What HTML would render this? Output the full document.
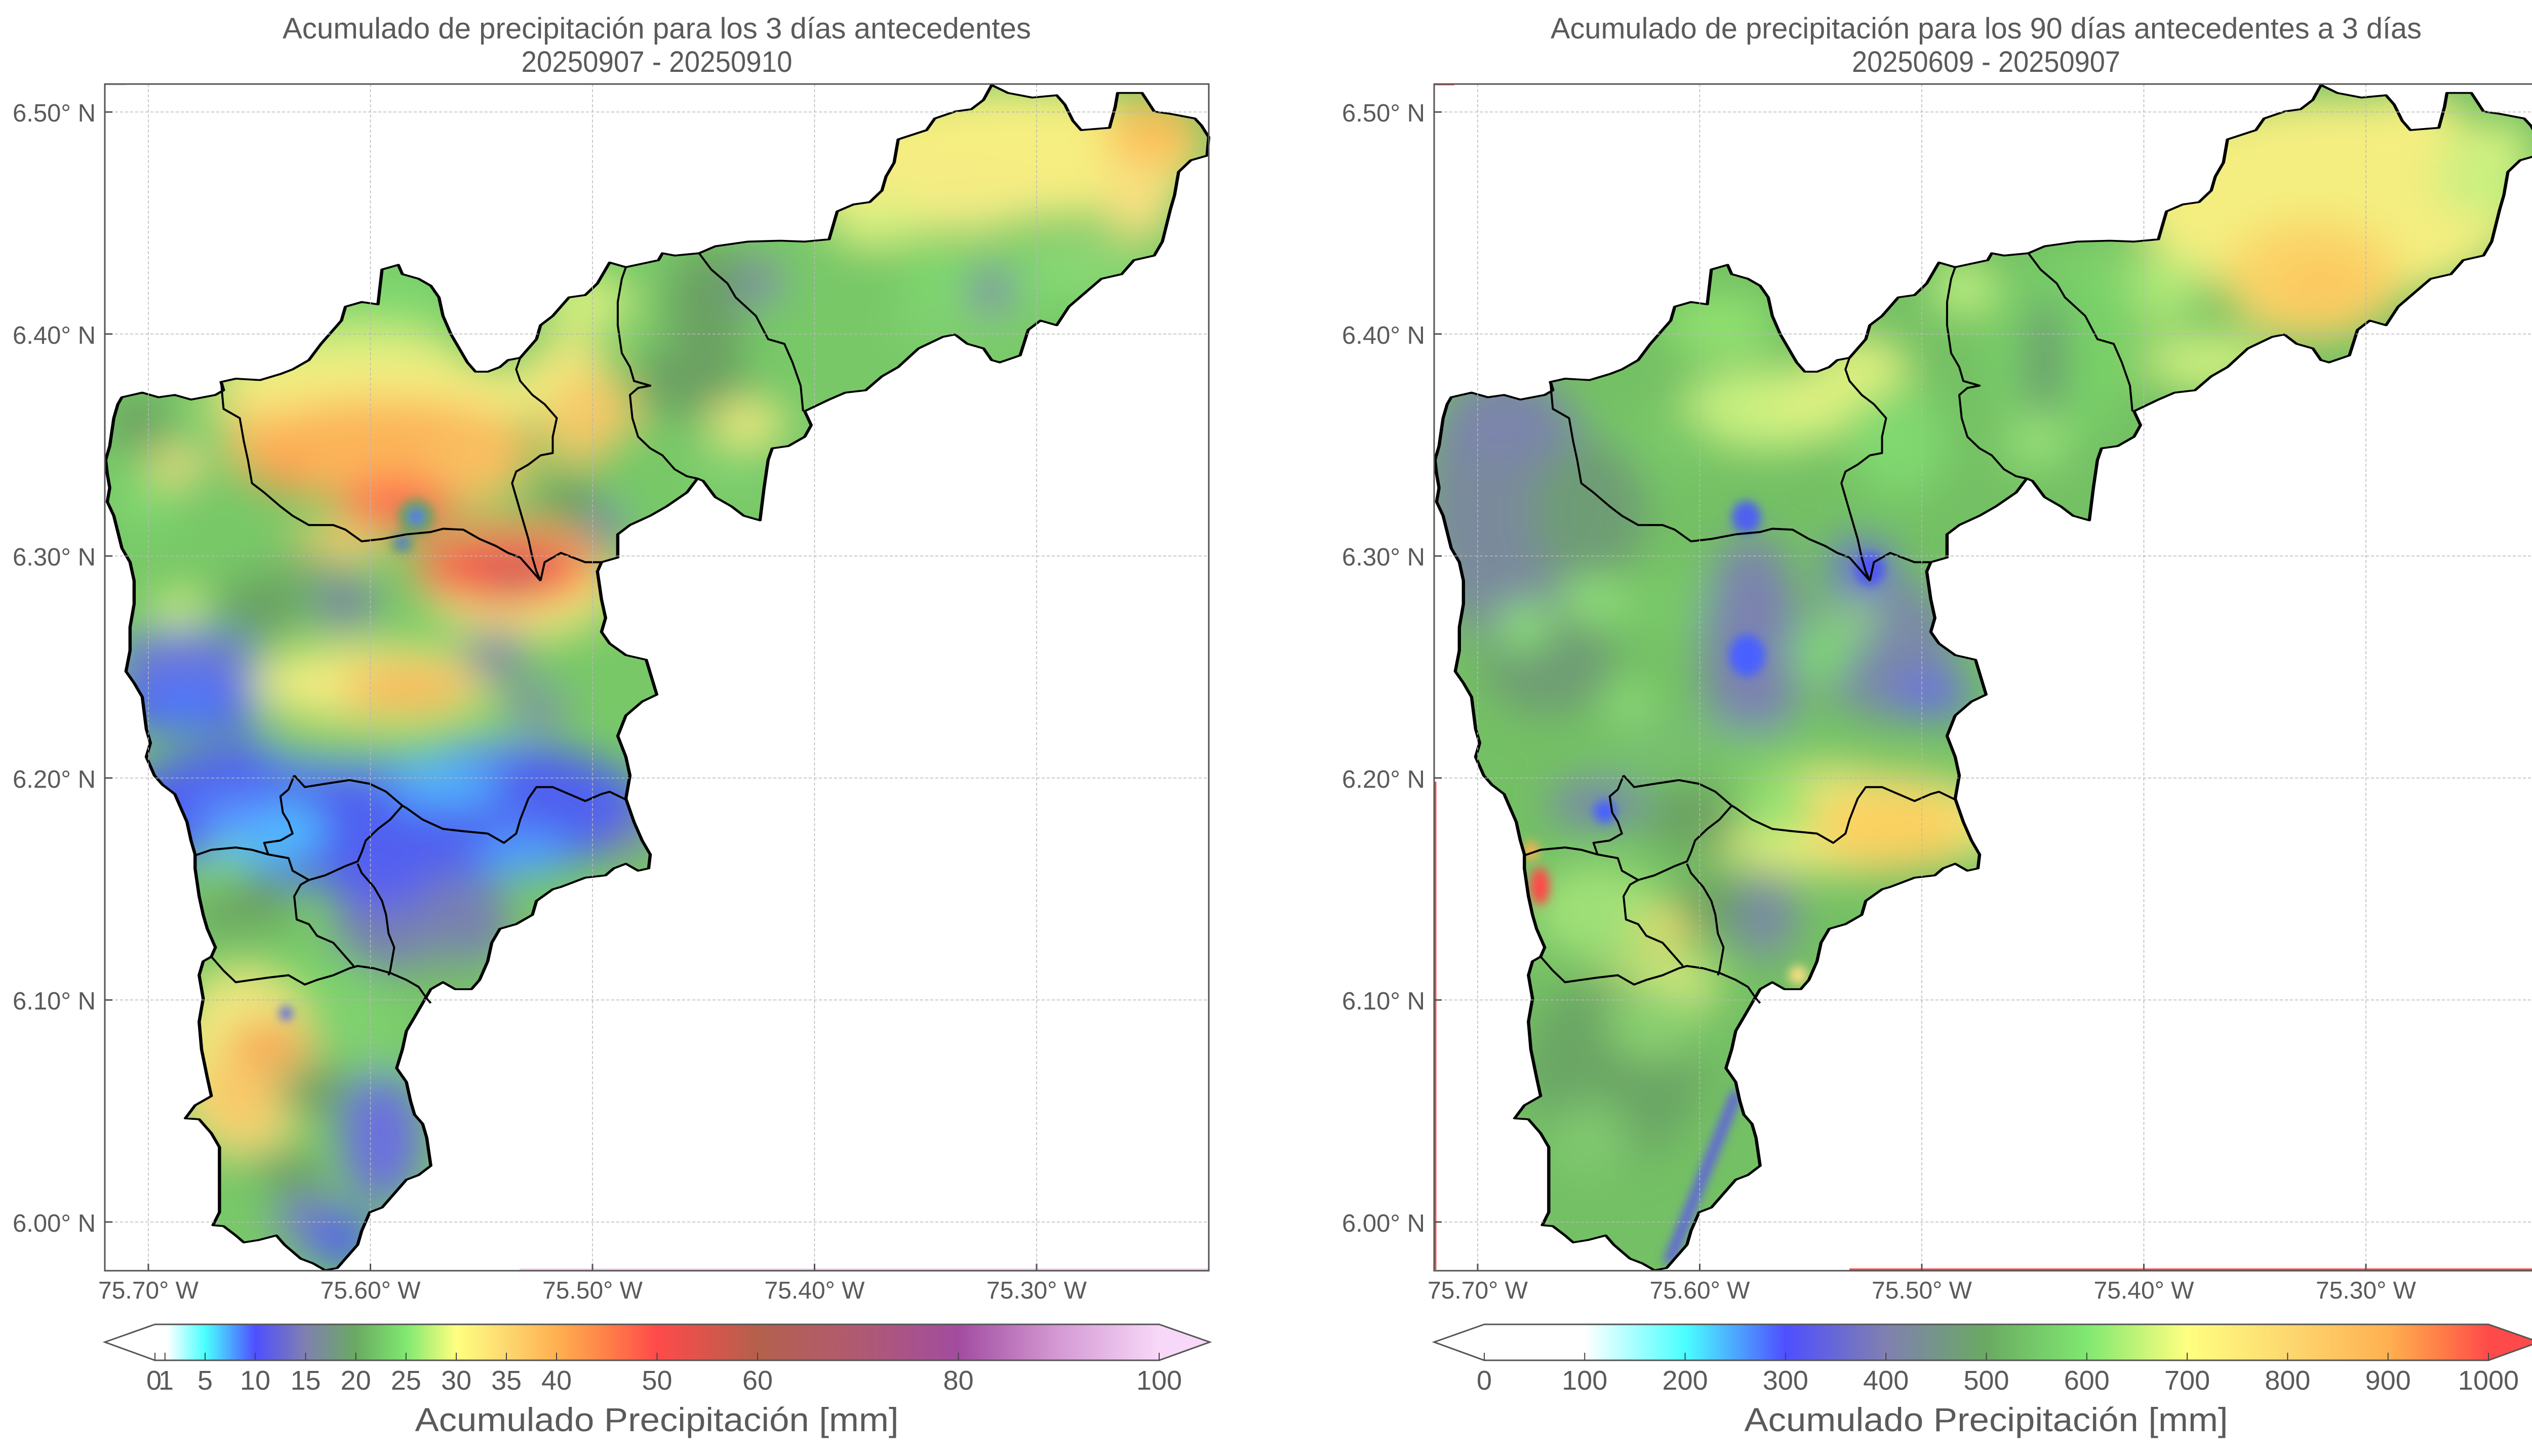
<!DOCTYPE html>
<html><head><meta charset="utf-8"><style>
html,body{margin:0;padding:0;background:#fff;}
svg{display:block;}
text{font-family:"Liberation Sans",sans-serif;fill:#5a5a5a;}
</style></head><body>
<svg xmlns="http://www.w3.org/2000/svg" width="5044" height="2876" viewBox="0 0 5044 2876">
<defs>
<filter id="b1" filterUnits="userSpaceOnUse" x="-200" y="-200" width="2000" height="3200"><feGaussianBlur stdDeviation="25 44"/></filter>
<filter id="b2" filterUnits="userSpaceOnUse" x="-200" y="-200" width="2000" height="3200"><feGaussianBlur stdDeviation="6 11"/></filter>
<path id="outer" d="M1220,183 L1240,200 1270,210 1300,205 1310,225 1320,260 1330,280 1365,275 1372,230 1375,200 1405,200 1420,240 1440,245 1470,255 1478,270 1487,295 1485,335 1465,345 1450,370 1445,420 1440,450 1430,520 1420,550 1395,560 1380,590 1355,600 1335,630 1315,660 1300,700 1280,690 1265,710 1255,765 1230,780 1220,775 1210,750 1190,740 1175,720 1160,725 1130,750 1105,790 1085,810 1065,840 1040,845 1020,860 990,885 998,915 990,940 970,960 950,965 945,990 940,1050 935,1120 915,1110 900,1090 880,1070 865,1035 858,1030 845,1060 820,1090 800,1110 775,1130 760,1150 760,1200 740,1210 735,1230 740,1290 745,1330 740,1360 750,1385 770,1410 795,1420 808,1495 790,1510 770,1540 760,1584 770,1629 775,1669 770,1719 780,1769 790,1809 800,1839 798,1869 785,1874 770,1859 755,1869 745,1884 720,1889 705,1899 690,1909 680,1914 660,1939 655,1969 635,1989 615,1999 605,2029 600,2069 590,2109 580,2129 560,2129 545,2114 530,2129 520,2159 510,2189 500,2219 495,2259 488,2299 500,2329 505,2369 510,2399 520,2419 525,2449 530,2509 515,2529 500,2539 490,2559 470,2599 455,2609 445,2649 440,2679 425,2709 415,2729 400,2734 385,2719 370,2709 350,2679 340,2659 318,2669 300,2674 290,2659 275,2639 262,2637 270,2609 270,2469 260,2439 245,2409 228,2407 240,2379 260,2359 255,2319 248,2259 245,2199 250,2149 245,2099 250,2069 260,2059 265,2039 255,1999 250,1969 245,1929 240,1869 240,1839 235,1809 230,1769 220,1729 215,1709 200,1689 190,1669 185,1649 180,1629 185,1599 180,1569 175,1500 165,1470 155,1445 160,1400 160,1350 165,1300 165,1250 160,1210 150,1180 140,1110 132,1080 135,1050 132,1020 130,990 135,960 140,900 145,870 150,855 175,845 195,855 215,850 235,860 265,850 275,840 272,822 290,815 320,818 345,805 360,795 380,775 395,740 410,710 420,690 425,660 445,650 465,655 470,580 480,575 490,570 495,590 515,600 530,615 540,640 545,680 555,720 565,750 575,780 585,800 600,800 615,790 625,775 640,770 660,730 665,700 680,680 690,660 700,640 720,635 735,610 745,580 750,565 770,575 810,560 815,545 830,550 860,545 880,530 920,520 960,518 990,520 1020,515 1030,455 1050,440 1070,435 1085,410 1090,380 1100,350 1105,300 1140,280 1150,255 1175,240 1195,235 1210,215 Z"/>
<clipPath id="cp"><use href="#outer"/></clipPath>
<g id="lines" fill="none" stroke="#000" stroke-width="4" stroke-linejoin="round">
<use href="#outer" vector-effect="non-scaling-stroke"/>
<path vector-effect="non-scaling-stroke" d="M272,822 L275,880 295,900 300,950 305,990 310,1040 325,1060 345,1090 360,1110 380,1130 410,1130 425,1140 445,1165 470,1160 500,1150 530,1145 545,1138 570,1140 590,1160 610,1175 625,1190 640,1200 655,1230 665,1250"/>
<path vector-effect="non-scaling-stroke" d="M640,770 L635,795 640,820 655,850 670,870 685,900 680,940 680,975 665,980 650,1000 635,1015 630,1040 640,1100 650,1160 655,1200 660,1230 665,1250"/>
<path vector-effect="non-scaling-stroke" d="M665,1250 L670,1210 690,1190 705,1200 720,1210 740,1210"/>
<path vector-effect="non-scaling-stroke" d="M770,575 L765,600 760,650 760,700 765,760 775,790 780,820 800,830 785,835 775,850 778,900 785,940 800,965 815,980 830,1010 845,1025 858,1030"/>
<path vector-effect="non-scaling-stroke" d="M860,545 L875,580 895,610 905,640 930,680 945,730 965,740 975,780 985,830 988,885"/>
<path vector-effect="non-scaling-stroke" d="M362,1669 L375,1694 400,1687 430,1679 455,1687 475,1704 495,1734 500,1739 520,1764 545,1784 570,1789 600,1794 620,1814 635,1794 640,1764 650,1719 660,1694 680,1694 700,1709 720,1724 740,1709 750,1704 770,1721"/>
<path vector-effect="non-scaling-stroke" d="M362,1669 L355,1699 345,1714 348,1749 355,1769 360,1794 345,1809 325,1814 330,1839"/>
<path vector-effect="non-scaling-stroke" d="M240,1841 L260,1829 290,1824 310,1829 330,1839 355,1847 360,1874 380,1894"/>
<path vector-effect="non-scaling-stroke" d="M380,1894 L400,1884 425,1864 440,1854 445,1834 450,1809 465,1784 480,1764 495,1734"/>
<path vector-effect="non-scaling-stroke" d="M440,1859 L445,1879 460,1909 470,1939 475,1969 478,2009 485,2039 480,2089 478,2099"/>
<path vector-effect="non-scaling-stroke" d="M380,1894 L370,1904 362,1929 365,1979 380,1989 390,2014 410,2029 425,2059 435,2079"/>
<path vector-effect="non-scaling-stroke" d="M260,2059 L275,2089 290,2114 310,2109 330,2104 355,2099 365,2109 375,2119 390,2109 410,2099 430,2084 440,2079 460,2084 480,2094 500,2109 515,2124 525,2149 530,2159"/>
</g>
<linearGradient id="cbL" x1="0" x2="1" y1="0" y2="0">
<stop offset="0" stop-color="#ffffff"/><stop offset="0.012" stop-color="#ffffff"/><stop offset="0.05" stop-color="#4affff"/><stop offset="0.10" stop-color="#4f4fff"/><stop offset="0.15" stop-color="#8080b0"/><stop offset="0.20" stop-color="#6aaa62"/><stop offset="0.25" stop-color="#80e870"/><stop offset="0.30" stop-color="#ffff80"/><stop offset="0.35" stop-color="#fdd870"/><stop offset="0.40" stop-color="#ffb050"/><stop offset="0.45" stop-color="#ff8048"/><stop offset="0.50" stop-color="#ff4a4a"/><stop offset="0.60" stop-color="#b4604c"/><stop offset="0.70" stop-color="#b05a72"/><stop offset="0.80" stop-color="#a24ca0"/><stop offset="0.90" stop-color="#d49ad4"/><stop offset="1" stop-color="#f8d8f8"/>
</linearGradient>
<linearGradient id="cbR" x1="0" x2="1" y1="0" y2="0">
<stop offset="0" stop-color="#ffffff"/><stop offset="0.10" stop-color="#ffffff"/><stop offset="0.20" stop-color="#4affff"/><stop offset="0.30" stop-color="#4f4fff"/><stop offset="0.40" stop-color="#8080b0"/><stop offset="0.50" stop-color="#6aaa62"/><stop offset="0.60" stop-color="#80e870"/><stop offset="0.70" stop-color="#ffff80"/><stop offset="0.80" stop-color="#fdd870"/><stop offset="0.90" stop-color="#ffb050"/><stop offset="0.95" stop-color="#ff8048"/><stop offset="1" stop-color="#ff4a4a"/>
</linearGradient>
<g id="grid" stroke="#b8b8b8" stroke-width="1.5" stroke-dasharray="6 4" fill="none">
<path d="M293,166V2510M731.5,166V2510M1170,166V2510M1608.5,166V2510M2047,166V2510"/>
<path d="M207,221.2H2387M207,659.7H2387M207,1098.2H2387M207,1536.7H2387M207,1975.2H2387M207,2413.7H2387"/>
</g>
<g id="frame">
<rect x="207" y="166" width="2180" height="2344" fill="none" stroke="#555" stroke-width="3"/>
<path stroke="#555" stroke-width="3" d="M207,221.2h15M207,659.7h15M207,1098.2h15M207,1536.7h15M207,1975.2h15M207,2413.7h15M293,2510v-14M731.5,2510v-14M1170,2510v-14M1608.5,2510v-14M2047,2510v-14"/>
<g font-size="49" text-anchor="end">
<text x="189" y="240">6.50° N</text><text x="189" y="679">6.40° N</text><text x="189" y="1117">6.30° N</text><text x="189" y="1556">6.20° N</text><text x="189" y="1994">6.10° N</text><text x="189" y="2433">6.00° N</text>
</g>
<g font-size="48" text-anchor="middle">
<text x="293" y="2565">75.70° W</text><text x="731.5" y="2565">75.60° W</text><text x="1170" y="2565">75.50° W</text><text x="1608.5" y="2565">75.40° W</text><text x="2047" y="2565">75.30° W</text>
</g>
</g>
</defs>

<!-- LEFT MAP -->
<g transform="scale(1.60514,0.91777)">
<g clip-path="url(#cp)">
<rect x="100" y="150" width="1450" height="2650" fill="#78c868"/>
<g filter="url(#b1)">
<ellipse cx="1250" cy="330" rx="230" ry="140" fill="#f6ee80"/>
<ellipse cx="1150" cy="420" rx="150" ry="80" fill="#f4ec84"/>
<ellipse cx="1420" cy="290" rx="60" ry="80" fill="#fbbf58"/>
<ellipse cx="1400" cy="430" rx="45" ry="90" fill="#f8e080"/>
<ellipse cx="1080" cy="480" rx="60" ry="50" fill="#d8f080"/>
<ellipse cx="1230" cy="600" rx="200" ry="60" fill="#7ed86e"/>
<ellipse cx="1330" cy="560" rx="60" ry="40" fill="#90d878"/>
<ellipse cx="1180" cy="700" rx="90" ry="50" fill="#80d070"/>
<ellipse cx="1050" cy="600" rx="70" ry="70" fill="#78c868"/>
<ellipse cx="1220" cy="625" rx="30" ry="50" fill="#8088a8"/>
<ellipse cx="880" cy="650" rx="60" ry="120" fill="#6aa062"/>
<ellipse cx="935" cy="620" rx="30" ry="60" fill="#8088a8"/>
<ellipse cx="850" cy="820" rx="70" ry="80" fill="#6aa062"/>
<ellipse cx="960" cy="700" rx="50" ry="60" fill="#78c868"/>
<ellipse cx="920" cy="910" rx="50" ry="45" fill="#f4ec80"/>
<ellipse cx="900" cy="1010" rx="50" ry="60" fill="#80d070"/>
<ellipse cx="720" cy="650" rx="60" ry="60" fill="#d8f080"/>
<ellipse cx="700" cy="780" rx="50" ry="60" fill="#f0e880"/>
<ellipse cx="725" cy="905" rx="60" ry="100" fill="#f8c868"/>
<ellipse cx="790" cy="1000" rx="60" ry="80" fill="#78c868"/>
<ellipse cx="700" cy="1080" rx="40" ry="60" fill="#6aa062"/>
<ellipse cx="745" cy="1128" rx="20" ry="40" fill="#7878c0"/>
<ellipse cx="480" cy="650" rx="80" ry="70" fill="#80d870"/>
<ellipse cx="420" cy="760" rx="150" ry="60" fill="#d8f080"/>
<ellipse cx="470" cy="850" rx="220" ry="80" fill="#f4ec80"/>
<ellipse cx="640" cy="1260" rx="120" ry="110" fill="#f4ec80"/>
<ellipse cx="300" cy="900" rx="20" ry="40" fill="#f8d070"/>
<ellipse cx="470" cy="970" rx="190" ry="110" fill="#fcb458"/>
<ellipse cx="580" cy="1010" rx="60" ry="80" fill="#f8c060"/>
<ellipse cx="350" cy="1020" rx="30" ry="40" fill="#fb9a50"/>
<ellipse cx="625" cy="1215" rx="120" ry="95" fill="#fca058"/>
<ellipse cx="490" cy="1085" rx="70" ry="55" fill="#ff6a50"/>
<ellipse cx="420" cy="1165" rx="60" ry="40" fill="#f8d070"/>
<ellipse cx="617" cy="1226" rx="95" ry="65" fill="#f05a50"/>
<ellipse cx="634" cy="1238" rx="30" ry="28" fill="#b06065"/>
<ellipse cx="170" cy="910" rx="40" ry="60" fill="#6aa062"/>
<ellipse cx="250" cy="960" rx="40" ry="50" fill="#80d070"/>
<ellipse cx="215" cy="1005" rx="35" ry="40" fill="#f4d880"/>
<ellipse cx="180" cy="1080" rx="40" ry="60" fill="#80d870"/>
<ellipse cx="300" cy="1250" rx="70" ry="60" fill="#78c868"/>
<ellipse cx="219" cy="1313" rx="30" ry="40" fill="#d8f080"/>
<ellipse cx="320" cy="1304" rx="50" ry="70" fill="#6aa062"/>
<ellipse cx="380" cy="1230" rx="40" ry="50" fill="#70b068"/>
<ellipse cx="424" cy="1297" rx="40" ry="60" fill="#7a8aa0"/>
<ellipse cx="460" cy="1470" rx="150" ry="85" fill="#f0ec80"/>
<ellipse cx="500" cy="1480" rx="80" ry="50" fill="#f8b458"/>
<ellipse cx="610" cy="1410" rx="40" ry="60" fill="#7a8aa0"/>
<ellipse cx="700" cy="1450" rx="60" ry="60" fill="#78c868"/>
<ellipse cx="660" cy="1520" rx="40" ry="40" fill="#8088a8"/>
<ellipse cx="230" cy="1420" rx="90" ry="70" fill="#6a78d8"/>
<ellipse cx="470" cy="1739" rx="330" ry="170" fill="#5060f0"/>
<ellipse cx="230" cy="1520" rx="90" ry="60" fill="#4e5cf8"/>
<ellipse cx="231" cy="1513" rx="40" ry="40" fill="#4e80ff"/>
<ellipse cx="440" cy="1609" rx="120" ry="40" fill="#78c868"/>
<ellipse cx="560" cy="1579" rx="100" ry="30" fill="#80d870"/>
<ellipse cx="548" cy="1690" rx="70" ry="45" fill="#50b8ff"/>
<ellipse cx="329" cy="1788" rx="70" ry="70" fill="#50c0ff"/>
<ellipse cx="290" cy="1749" rx="50" ry="40" fill="#5a90ff"/>
<ellipse cx="644" cy="1838" rx="60" ry="50" fill="#50a0ff"/>
<ellipse cx="773" cy="1806" rx="30" ry="40" fill="#7a80b0"/>
<ellipse cx="520" cy="1989" rx="110" ry="110" fill="#7880b0"/>
<ellipse cx="470" cy="1909" rx="60" ry="50" fill="#5a60f0"/>
<ellipse cx="300" cy="1949" rx="60" ry="90" fill="#6aa062"/>
<ellipse cx="272" cy="1874" rx="25" ry="50" fill="#80d870"/>
<ellipse cx="330" cy="2049" rx="80" ry="50" fill="#78c868"/>
<ellipse cx="550" cy="2089" rx="50" ry="40" fill="#78b070"/>
<ellipse cx="330" cy="2129" rx="120" ry="60" fill="#7cd46c"/>
<ellipse cx="300" cy="2289" rx="90" ry="200" fill="#f0e880"/>
<ellipse cx="330" cy="2249" rx="50" ry="50" fill="#f8a050"/>
<ellipse cx="295" cy="2359" rx="50" ry="90" fill="#f8c868"/>
<ellipse cx="440" cy="2219" rx="60" ry="80" fill="#80d070"/>
<ellipse cx="390" cy="2349" rx="50" ry="60" fill="#6aa062"/>
<ellipse cx="470" cy="2449" rx="50" ry="140" fill="#6a70e0"/>
<ellipse cx="340" cy="2549" rx="60" ry="80" fill="#6aa062"/>
<ellipse cx="300" cy="2569" rx="40" ry="60" fill="#78c868"/>
<ellipse cx="380" cy="2629" rx="40" ry="60" fill="#7880c0"/>
<ellipse cx="420" cy="2669" rx="40" ry="60" fill="#5060f0"/>
</g>
<g filter="url(#b2)">
<ellipse cx="512" cy="1112" rx="22" ry="38" fill="#6aa062"/>
<ellipse cx="512" cy="1112" rx="8" ry="14" fill="#4a6aff"/>
<ellipse cx="495" cy="1170" rx="14" ry="22" fill="#6aa062"/>
<ellipse cx="495" cy="1168" rx="6" ry="10" fill="#5060f0"/>
<ellipse cx="352" cy="2181" rx="8" ry="14" fill="#5060f0"/>
</g>
</g>
<use href="#lines"/>
</g>

<!-- RIGHT MAP -->
<g transform="translate(2625,0) scale(1.60514,0.91777)">
<g clip-path="url(#cp)">
<rect x="100" y="150" width="1450" height="2650" fill="#74c064"/>
<g filter="url(#b1)">
<ellipse cx="1230" cy="430" rx="240" ry="220" fill="#f4ee80"/>
<ellipse cx="1330" cy="240" rx="60" ry="40" fill="#f8f080"/>
<ellipse cx="1210" cy="600" rx="110" ry="130" fill="#fbd468"/>
<ellipse cx="1220" cy="620" rx="60" ry="60" fill="#fbc860"/>
<ellipse cx="1420" cy="380" rx="60" ry="90" fill="#c8f080"/>
<ellipse cx="1430" cy="300" rx="50" ry="40" fill="#d8f080"/>
<ellipse cx="1080" cy="780" rx="80" ry="60" fill="#d0f080"/>
<ellipse cx="1020" cy="620" rx="50" ry="80" fill="#b0e878"/>
<ellipse cx="940" cy="650" rx="60" ry="120" fill="#88d870"/>
<ellipse cx="900" cy="750" rx="90" ry="200" fill="#78d068"/>
<ellipse cx="880" cy="780" rx="25" ry="150" fill="#6a9a70"/>
<ellipse cx="870" cy="950" rx="40" ry="60" fill="#98e078"/>
<ellipse cx="780" cy="620" rx="40" ry="60" fill="#c0f080"/>
<ellipse cx="654" cy="796" rx="60" ry="70" fill="#e0f080"/>
<ellipse cx="700" cy="950" rx="60" ry="120" fill="#80d870"/>
<ellipse cx="480" cy="700" rx="70" ry="70" fill="#90e070"/>
<ellipse cx="540" cy="880" rx="110" ry="90" fill="#c8f080"/>
<ellipse cx="590" cy="860" rx="50" ry="50" fill="#e0f080"/>
<ellipse cx="400" cy="960" rx="80" ry="80" fill="#78c868"/>
<ellipse cx="215" cy="1080" rx="100" ry="300" fill="#7a8a9c"/>
<ellipse cx="220" cy="920" rx="90" ry="70" fill="#7c84ac"/>
<ellipse cx="320" cy="1100" rx="70" ry="160" fill="#6e9c74"/>
<ellipse cx="270" cy="1420" rx="80" ry="120" fill="#6e9c74"/>
<ellipse cx="239" cy="1347" rx="30" ry="50" fill="#90e878"/>
<ellipse cx="330" cy="1290" rx="50" ry="50" fill="#90e078"/>
<ellipse cx="420" cy="1300" rx="60" ry="80" fill="#78c868"/>
<ellipse cx="520" cy="1400" rx="60" ry="250" fill="#7c82b0"/>
<ellipse cx="680" cy="1390" rx="90" ry="150" fill="#7a88a8"/>
<ellipse cx="654" cy="1213" rx="40" ry="50" fill="#6a6ae0"/>
<ellipse cx="740" cy="1496" rx="50" ry="50" fill="#6a70e0"/>
<ellipse cx="606" cy="1404" rx="40" ry="60" fill="#80d870"/>
<ellipse cx="650" cy="1330" rx="25" ry="35" fill="#98e078"/>
<ellipse cx="368" cy="1514" rx="30" ry="40" fill="#90e078"/>
<ellipse cx="420" cy="1600" rx="90" ry="60" fill="#78c070"/>
<ellipse cx="560" cy="1620" rx="90" ry="50" fill="#78c868"/>
<ellipse cx="640" cy="1770" rx="200" ry="110" fill="#eef080"/>
<ellipse cx="692" cy="1780" rx="100" ry="90" fill="#fbd060"/>
<ellipse cx="540" cy="1740" rx="60" ry="60" fill="#90e070"/>
<ellipse cx="330" cy="1730" rx="60" ry="45" fill="#7a80b8"/>
<ellipse cx="450" cy="1760" rx="60" ry="70" fill="#6aa062"/>
<ellipse cx="330" cy="1960" rx="80" ry="100" fill="#a0e078"/>
<ellipse cx="420" cy="1997" rx="40" ry="40" fill="#fbe070"/>
<ellipse cx="400" cy="2120" rx="80" ry="60" fill="#e0f080"/>
<ellipse cx="534" cy="1972" rx="40" ry="90" fill="#7a88a8"/>
<ellipse cx="470" cy="1950" rx="40" ry="70" fill="#6aa062"/>
<ellipse cx="350" cy="2300" rx="110" ry="200" fill="#6aa565"/>
<ellipse cx="320" cy="2450" rx="50" ry="80" fill="#80c870"/>
<ellipse cx="400" cy="2200" rx="60" ry="80" fill="#8ad070"/>
</g>
<g filter="url(#b2)">
<ellipse cx="513" cy="1113" rx="18" ry="35" fill="#5060f0"/>
<ellipse cx="514" cy="1411" rx="22" ry="45" fill="#4a60ff"/>
<ellipse cx="665" cy="1225" rx="18" ry="35" fill="#5058f0"/>
<ellipse cx="339" cy="1747" rx="14" ry="24" fill="#4a60ff"/>
<ellipse cx="259" cy="1907" rx="12" ry="40" fill="#ff4a4a"/>
<ellipse cx="248" cy="1831" rx="10" ry="20" fill="#fbb050"/>
<ellipse cx="577" cy="2099" rx="12" ry="20" fill="#f8e080"/>
<path d="M502,2349 L417,2719" stroke="#6060e0" stroke-width="14" fill="none"/>
</g>
</g>
<use href="#lines"/>
</g>

<!-- edge artifacts -->
<path d="M1026,2507H2386" stroke="#f4d0f4" stroke-width="3"/>
<path d="M209,167H247" stroke="#f4d0f4" stroke-width="3"/>
<path d="M3652,2507H5011" stroke="#ff4a4a" stroke-width="3"/>
<path d="M2834,167H2872" stroke="#ff4a4a" stroke-width="3"/>
<path d="M2835,1544V2508" stroke="#ff4a4a" stroke-width="3"/>

<!-- grids and frames -->
<use href="#grid"/>
<use href="#grid" transform="translate(2625,0)"/>
<use href="#frame"/>
<use href="#frame" transform="translate(2625,0)"/>

<!-- titles -->
<g font-size="58" text-anchor="middle">
<text x="1297" y="76" textLength="1478" lengthAdjust="spacingAndGlyphs">Acumulado de precipitación para los 3 días antecedentes</text>
<text x="1297" y="142" textLength="535" lengthAdjust="spacingAndGlyphs">20250907 - 20250910</text>
<text x="3922" y="76" textLength="1720" lengthAdjust="spacingAndGlyphs">Acumulado de precipitación para los 90 días antecedentes a 3 días</text>
<text x="3922" y="142" textLength="530" lengthAdjust="spacingAndGlyphs">20250609 - 20250907</text>
</g>

<!-- colorbar left -->
<rect x="306" y="2616" width="1983" height="71" fill="url(#cbL)"/>
<path d="M306,2616 L207,2651 306,2687Z" fill="#ffffff"/>
<path d="M2289,2616 L2389,2651 2289,2687Z" fill="#f8d8f8"/>
<path d="M207,2651 L306,2616 H2289 L2389,2651 L2289,2687 H306 Z" fill="none" stroke="#555" stroke-width="3" stroke-linejoin="miter"/>
<path stroke="#444" stroke-width="2" d="M306,2687v-15M325.8,2687v-15M405,2687v-15M504,2687v-15M603.5,2687v-15M702.6,2687v-15M801.8,2687v-15M901,2687v-15M1000,2687v-15M1099,2687v-15M1297.5,2687v-15M1496,2687v-15M1892.6,2687v-15M2289,2687v-15"/>
<g font-size="54" text-anchor="middle">
<text x="304" y="2745">0</text><text x="328" y="2745">1</text><text x="405" y="2745">5</text><text x="504" y="2745">10</text><text x="603.5" y="2745">15</text><text x="702.6" y="2745">20</text><text x="801.8" y="2745">25</text><text x="901" y="2745">30</text><text x="1000" y="2745">35</text><text x="1099" y="2745">40</text><text x="1297.5" y="2745">50</text><text x="1496" y="2745">60</text><text x="1892.6" y="2745">80</text><text x="2289" y="2745">100</text>
</g>
<text x="1297" y="2827" font-size="66" text-anchor="middle" textLength="955" lengthAdjust="spacingAndGlyphs">Acumulado Precipitación [mm]</text>

<!-- colorbar right -->
<rect x="2931" y="2616" width="1983" height="71" fill="url(#cbR)"/>
<path d="M2931,2616 L2832,2651 2931,2687Z" fill="#ffffff"/>
<path d="M4914,2616 L5014,2651 4914,2687Z" fill="#ff4a4a"/>
<path d="M2832,2651 L2931,2616 H4914 L5014,2651 L4914,2687 H2931 Z" fill="none" stroke="#555" stroke-width="3"/>
<path stroke="#444" stroke-width="2" d="M2931,2687v-15M3129.3,2687v-15M3327.6,2687v-15M3525.9,2687v-15M3724.2,2687v-15M3922.5,2687v-15M4120.8,2687v-15M4319.1,2687v-15M4517.4,2687v-15M4715.7,2687v-15M4914,2687v-15"/>
<g font-size="54" text-anchor="middle">
<text x="2931" y="2745">0</text><text x="3129.3" y="2745">100</text><text x="3327.6" y="2745">200</text><text x="3525.9" y="2745">300</text><text x="3724.2" y="2745">400</text><text x="3922.5" y="2745">500</text><text x="4120.8" y="2745">600</text><text x="4319.1" y="2745">700</text><text x="4517.4" y="2745">800</text><text x="4715.7" y="2745">900</text><text x="4914" y="2745">1000</text>
</g>
<text x="3922" y="2827" font-size="66" text-anchor="middle" textLength="955" lengthAdjust="spacingAndGlyphs">Acumulado Precipitación [mm]</text>
</svg>
</body></html>
